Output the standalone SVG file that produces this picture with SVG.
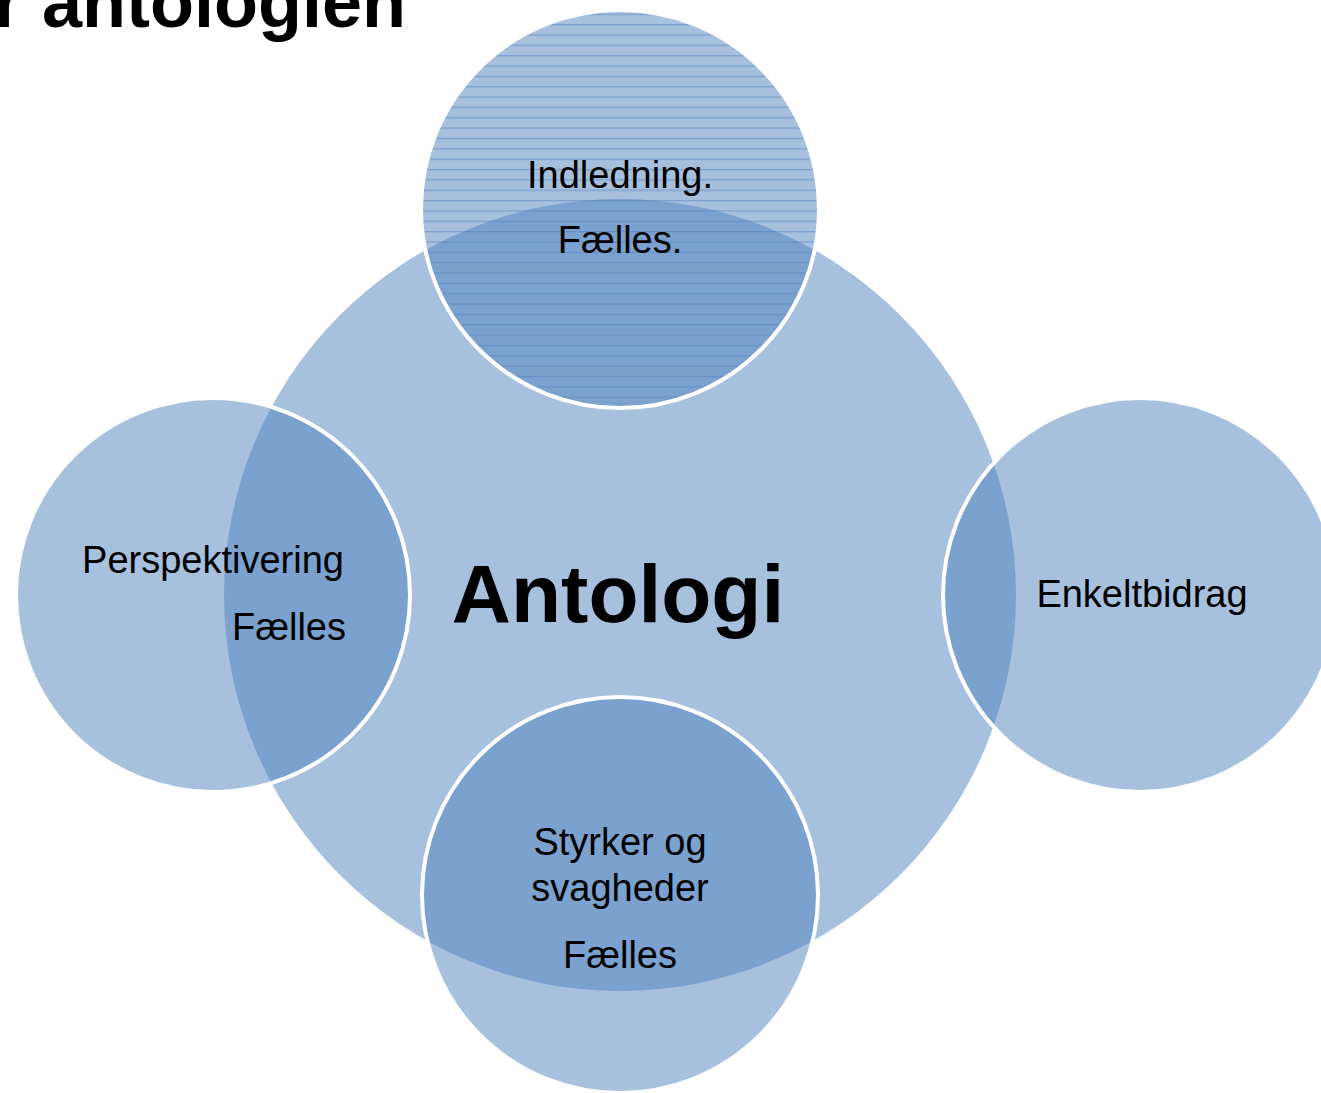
<svg xmlns="http://www.w3.org/2000/svg" width="1321" height="1093" viewBox="0 0 1321 1093">
  <style>
    .lbl { font-family: "Liberation Sans", Arial, sans-serif; font-size: 38px; fill: #000; }
    .big { font-family: "Liberation Sans", Arial, sans-serif; font-weight: bold; fill: #000; }
    .fill { fill: #4f81bd; fill-opacity: 0.5; }
    .edge { fill: none; stroke: #ffffff; stroke-width: 4; }
  </style>
  <defs>
    <pattern id="lines" patternUnits="userSpaceOnUse" x="0" y="3.3" width="8" height="10.35">
      <rect x="0" y="0" width="8" height="1.3" fill="#4f81bd" fill-opacity="0.5"/>
    </pattern>
  </defs>
  <rect width="1321" height="1093" fill="#ffffff"/>

  <text class="big" x="-6" y="27" font-size="72">r antologien</text>

  <g id="antologi">
    <circle class="fill" cx="620" cy="595" r="396"/>
  </g>

  <g id="indledning">
    <circle class="fill" cx="620" cy="209" r="199"/>
    <circle cx="620" cy="209" r="197" fill="url(#lines)"/>
    <circle class="edge" cx="620" cy="209" r="199"/>
  </g>

  <g id="perspektivering">
    <circle class="fill" cx="213" cy="595" r="197"/>
    <circle class="edge" cx="213" cy="595" r="197"/>
  </g>

  <g id="enkeltbidrag">
    <circle class="fill" cx="1140" cy="595" r="197"/>
    <circle class="edge" cx="1140" cy="595" r="197"/>
  </g>

  <g id="styrker">
    <circle class="fill" cx="620" cy="895" r="198"/>
    <circle class="edge" cx="620" cy="895" r="198"/>
  </g>

  <g id="connectors"/>

  <g id="labels">
    <text class="big" x="618" y="622" font-size="82" text-anchor="middle">Antologi</text>
    <text class="lbl" x="620" y="188" text-anchor="middle">Indledning.</text>
    <text class="lbl" x="620" y="253" text-anchor="middle">Fælles.</text>
    <text class="lbl" x="213" y="573" text-anchor="middle">Perspektivering</text>
    <text class="lbl" x="346" y="640" text-anchor="end">Fælles</text>
    <text class="lbl" x="1142" y="607" text-anchor="middle">Enkeltbidrag</text>
    <text class="lbl" x="620" y="855" text-anchor="middle">Styrker og</text>
    <text class="lbl" x="620" y="901" text-anchor="middle">svagheder</text>
    <text class="lbl" x="620" y="968" text-anchor="middle">Fælles</text>
  </g>
</svg>
